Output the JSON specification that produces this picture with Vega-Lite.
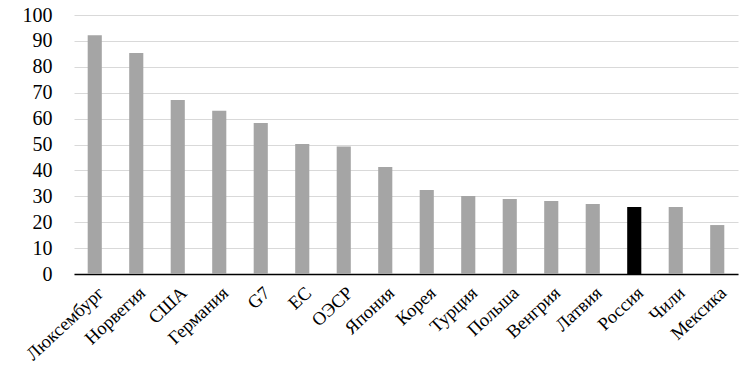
{
  "$schema": "https://vega.github.io/schema/vega-lite/v6.json",
  "autosize": "none",
  "width": 664,
  "height": 259,
  "padding": {"left": 74, "top": 15, "right": 11, "bottom": 104},
  "background": "white",
  "data": {"values": [
    {"country": "Люксембург", "value": 92.2, "hl": "n"},
    {"country": "Норвегия", "value": 85.3, "hl": "n"},
    {"country": "США", "value": 67.2, "hl": "n"},
    {"country": "Германия", "value": 63, "hl": "n"},
    {"country": "G7", "value": 58.3, "hl": "n"},
    {"country": "ЕС", "value": 50.2, "hl": "n"},
    {"country": "ОЭСР", "value": 49.2, "hl": "n"},
    {"country": "Япония", "value": 41.3, "hl": "n"},
    {"country": "Корея", "value": 32.4, "hl": "n"},
    {"country": "Турция", "value": 30.1, "hl": "n"},
    {"country": "Польша", "value": 29, "hl": "n"},
    {"country": "Венгрия", "value": 28.2, "hl": "n"},
    {"country": "Латвия", "value": 27, "hl": "n"},
    {"country": "Россия", "value": 25.9, "hl": "y"},
    {"country": "Чили", "value": 25.9, "hl": "n"},
    {"country": "Мексика", "value": 18.9, "hl": "n"}
  ]},
  "mark": {"type": "bar"},
  "encoding": {
    "x": {
      "field": "country", "type": "nominal", "sort": null, "title": null,
      "scale": {"paddingInner": 0.66, "paddingOuter": 0.33},
      "axis": {
        "labelAngle": -43, "labelFont": "Liberation Serif", "labelFontSize": 18.5,
        "labelColor": "#000", "ticks": false, "labelPadding": 9,
        "domainColor": "#000", "domainWidth": 1.5, "grid": false, "labelLimit": 200
      }
    },
    "y": {
      "field": "value", "type": "quantitative", "title": null,
      "scale": {"domain": [0, 100], "nice": false},
      "axis": {
        "values": [0, 10, 20, 30, 40, 50, 60, 70, 80, 90, 100],
        "labelFont": "Liberation Serif", "labelFontSize": 20, "labelColor": "#000",
        "ticks": false, "domain": false, "labelPadding": 22,
        "gridColor": "#d9d9d9", "gridWidth": 1
      }
    },
    "color": {
      "field": "hl", "type": "nominal", "legend": null,
      "scale": {"domain": ["n", "y"], "range": ["#a5a5a5", "#000000"]}
    }
  },
  "config": {"view": {"stroke": null}}
}
